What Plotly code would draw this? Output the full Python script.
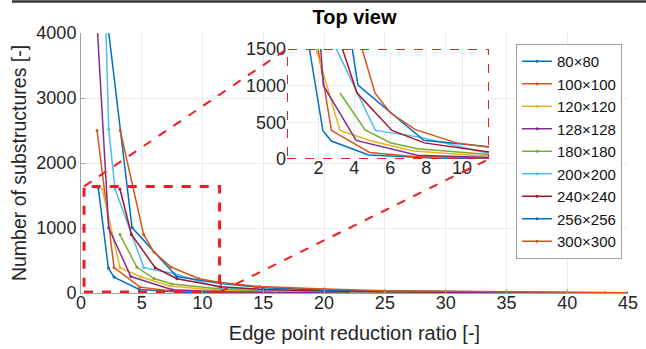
import plotly.graph_objects as go

# ---- data ----
names = ["80×80", "100×100", "120×120", "128×128", "180×180",
         "200×200", "240×240", "256×256", "300×300"]
colors = ["#0072BD", "#D95319", "#EDB120", "#7E2F8E", "#77AC30",
          "#4DBEEE", "#A2142F", "#0072BD", "#D95319"]

x_80 = [1.42, 2.25, 2.72, 4.8, 8.4, 13.6]
y_80 = [1620, 385, 245, 55, 12, 2]
x_100 = [1.32, 2.72, 4.85, 7.3, 11.5, 17.0]
y_100 = [2500, 390, 90, 34, 15, 3]
x_120 = [1.75, 3.2, 4.9, 7.3, 11.0, 20.3]
y_120 = [1600, 390, 250, 108, 45, 5]
x_128 = [1.0, 2.28, 4.1, 7.5, 11.5, 21.8]
y_128 = [5200, 1000, 253, 50, 20, 2]
x_180 = [3.2, 4.6, 6.0, 7.5, 11.5, 16.0, 30.5]
y_180 = [900, 395, 222, 140, 62, 30, 3]
x_200 = [1.5, 2.28, 2.8, 5.17, 7.7, 11.5, 16.0, 33.9]
y_200 = [7750, 2520, 1600, 390, 295, 75, 35, 3]
x_240 = [3.2, 4.15, 6.1, 7.9, 11.5, 15.0, 22.0, 36.7]
y_240 = [1600, 900, 390, 220, 95, 55, 25, 3]
x_256 = [1.2, 4.2, 7.87, 11.5, 15.0, 21.0, 43.1]
y_256 = [5700, 1007, 255, 145, 80, 40, 4]
x_300 = [3.23, 5.15, 6.0, 7.4, 9.7, 11.5, 14.7, 20.0, 25.0, 45.0]
y_300 = [2500, 900, 630, 400, 220, 160, 100, 60, 35, 5]

xs = [x_80, x_100, x_120, x_128, x_180, x_200, x_240, x_256, x_300]
ys = [y_80, y_100, y_120, y_128, y_180, y_200, y_240, y_256, y_300]

main_x_ticks = [0, 5, 10, 15, 20, 25, 30, 35, 40, 45]
main_y_ticks = [0, 1000, 2000, 3000, 4000]
inset_x_ticks = [2, 4, 6, 8, 10]
inset_y_ticks = [0, 500, 1000, 1500]
inset_x_range = [0.25, 11.5]
inset_y_range = [0, 1500]

zoom_box = dict(x0=0.25, x1=11.4, y0=15, y1=1640)

# ---- figure ----
W, H = 646, 349
L, R, T, B = 81, 18, 33, 56
pw, ph = W - L - R, H - T - B

def px_to_paper_x(px):
    return (px - L) / pw

def px_to_paper_y(py):
    return (H - B - py) / ph

inset_dom_x = [px_to_paper_x(287), px_to_paper_x(489)]
inset_dom_y = [px_to_paper_y(159), px_to_paper_y(49)]

fig = go.Figure()
for n, c, x, y in zip(names, colors, xs, ys):
    fig.add_trace(go.Scatter(x=x, y=y, name=n, mode="lines+markers",
                             line=dict(color=c, width=1.5),
                             marker=dict(color=c, size=3),
                             xaxis="x", yaxis="y"))
for n, c, x, y in zip(names, colors, xs, ys):
    fig.add_trace(go.Scatter(x=x, y=y, name=n, mode="lines",
                             line=dict(color=c, width=1.5),
                             showlegend=False, xaxis="x2", yaxis="y2"))

font_fam = "Liberation Sans, Arial, sans-serif"
grid_c = "#ebebeb"
axis_c = "#a0a0a0"
txt_c = "#262626"

fig.update_layout(
    width=W, height=H,
    margin=dict(l=L, r=R, t=T, b=B, autoexpand=False),
    paper_bgcolor="white", plot_bgcolor="white",
    font=dict(family=font_fam, size=18, color=txt_c),
    title=dict(text="<b>Top view</b>", x=(L + pw / 2) / W, xanchor="center",
               y=1 - 17 / H, yanchor="middle", font=dict(size=20, color="#000")),
    xaxis=dict(range=[0, 45], tickvals=main_x_ticks, showgrid=True,
               gridcolor=grid_c, zeroline=False, showline=True,
               linecolor=axis_c, linewidth=1, ticks="inside", ticklen=4,
               tickcolor=axis_c, domain=[0, 1], automargin=False,
               title=dict(text="Edge point reduction ratio [-]", standoff=14,
                          font=dict(size=20))),
    yaxis=dict(range=[0, 4000], tickvals=main_y_ticks, showgrid=True,
               gridcolor=grid_c, zeroline=False, showline=True,
               linecolor=axis_c, linewidth=1, ticks="inside", ticklen=4,
               tickcolor=axis_c, domain=[0, 1], automargin=False,
               title=dict(text="Number of substructures [-]", standoff=4,
                          font=dict(size=19.5))),
    xaxis2=dict(range=inset_x_range, tickvals=inset_x_ticks, showgrid=True,
                gridcolor=grid_c, zeroline=False, showline=False,
                ticks="", domain=inset_dom_x, anchor="y2", automargin=False),
    yaxis2=dict(range=inset_y_range, tickvals=inset_y_ticks, showgrid=True,
                gridcolor=grid_c, zeroline=False, showline=False,
                ticks="", domain=inset_dom_y, anchor="x2", automargin=False),
    legend=dict(x=px_to_paper_x(516), y=px_to_paper_y(44), xanchor="left",
                yanchor="top", bgcolor="white", bordercolor=axis_c,
                borderwidth=1, font=dict(size=15, color="#111"),
                itemwidth=30, tracegroupgap=0),
    showlegend=True,
)

try:
    fig.update_layout(xaxis_ticklabelstandoff=-7, xaxis2_ticklabelstandoff=-4)
except Exception:
    pass

red = "#ee1c25"
shapes = [
    # white background behind the inset (drawn in the inset subplot, below its grid)
    dict(type="rect", xref="x2", yref="y2",
         x0=inset_x_range[0], x1=inset_x_range[1],
         y0=inset_y_range[0], y1=inset_y_range[1],
         fillcolor="white", line=dict(width=0), layer="below"),
    # inset border
    dict(type="rect", xref="x2", yref="y2",
         x0=inset_x_range[0], x1=inset_x_range[1],
         y0=inset_y_range[0], y1=inset_y_range[1],
         line=dict(color=red, width=2, dash="dash"), layer="above"),
    # zoom rectangle in main axes
    dict(type="rect", xref="x", yref="y", line=dict(color=red, width=3, dash="dash"),
         **zoom_box),
    # connector lines
    dict(type="line", xref="paper", yref="paper",
         x0=zoom_box["x0"] / 45, y0=zoom_box["y1"] / 4000,
         x1=inset_dom_x[0], y1=inset_dom_y[1],
         line=dict(color=red, width=2, dash="dash")),
    dict(type="line", xref="paper", yref="paper",
         x0=zoom_box["x1"] / 45, y0=zoom_box["y0"] / 4000,
         x1=inset_dom_x[1], y1=inset_dom_y[0],
         line=dict(color=red, width=2, dash="dash")),
    # top separator line
    dict(type="line", xref="paper", yref="paper",
         x0=px_to_paper_x(12), x1=px_to_paper_x(646),
         y0=px_to_paper_y(1.5), y1=px_to_paper_y(1.5),
         line=dict(color="#333333", width=2.5)),
]
fig.update_layout(shapes=shapes)

fig.write_html("out.html")
